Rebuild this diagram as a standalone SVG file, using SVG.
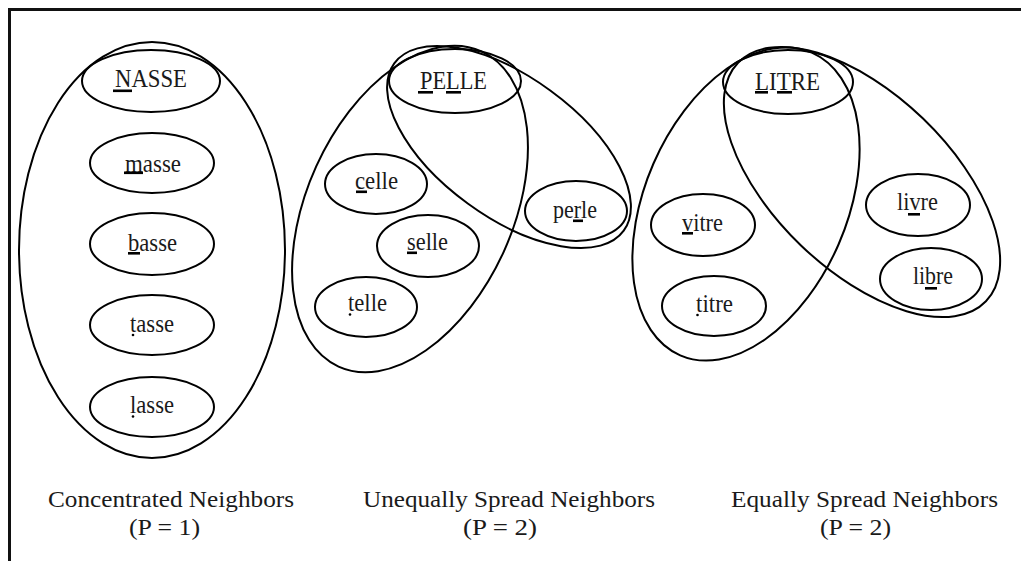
<svg xmlns="http://www.w3.org/2000/svg" width="1021" height="561" viewBox="0 0 1021 561">
<style>
.e{fill:none;stroke:#000;stroke-width:2}
.t{font-family:"Liberation Serif","Times New Roman",serif;font-size:25px;fill:#1a1a1a}
.c{font-family:"Liberation Serif","Times New Roman",serif;font-size:23px;fill:#1a1a1a;text-anchor:middle}
.u{fill:#000}
</style>
<rect width="1021" height="561" fill="#fff"/>
<path d="M9.5 561V9.5H1021" fill="none" stroke="#111" stroke-width="3"/>
<g id="connectors"/>
<g id="group-concentrated">
<ellipse class="e" cx="152" cy="250" rx="133" ry="208"/>
</g>
<g id="node-NASSE"><ellipse class="e" cx="151" cy="81" rx="69" ry="31"/><text class="t" x="115" y="87" textLength="72" lengthAdjust="spacingAndGlyphs">NASSE</text><rect class="u" x="113" y="89.5" width="19" height="2.6"/></g>
<g id="node-masse"><ellipse class="e" cx="152" cy="163" rx="62" ry="30"/><text class="t" x="125" y="172" textLength="56" lengthAdjust="spacingAndGlyphs">masse</text><rect class="u" x="124" y="171.5" width="19" height="2.6"/></g>
<g id="node-basse"><ellipse class="e" cx="152" cy="244" rx="62" ry="31"/><text class="t" x="128" y="251" textLength="49" lengthAdjust="spacingAndGlyphs">basse</text><rect class="u" x="128" y="252" width="12" height="2.6"/></g>
<g id="node-tasse"><ellipse class="e" cx="152" cy="325" rx="62" ry="30"/><text class="t" x="130" y="332" textLength="44" lengthAdjust="spacingAndGlyphs">tasse</text><circle class="u" cx="133" cy="335" r="1.3"/></g>
<g id="node-lasse"><ellipse class="e" cx="152" cy="407" rx="62" ry="30"/><text class="t" x="130" y="413" textLength="44" lengthAdjust="spacingAndGlyphs">lasse</text><circle class="u" cx="133" cy="416.5" r="1.3"/></g>

<g id="group-unequal">
<ellipse class="e" cx="410" cy="209" rx="103" ry="173" transform="rotate(24.4 410 209)"/>
<ellipse class="e" cx="509" cy="147" rx="142" ry="70" transform="rotate(36.1 509 147)"/>
</g>
<g id="node-PELLE"><ellipse class="e" cx="455" cy="81" rx="66" ry="32"/><text class="t" x="420" y="89" textLength="67" lengthAdjust="spacingAndGlyphs">PELLE</text><rect class="u" x="418" y="91" width="15" height="2.6"/><rect class="u" x="446" y="91" width="15" height="2.6"/></g>
<g id="node-celle"><ellipse class="e" cx="376" cy="184" rx="51" ry="30"/><text class="t" x="355" y="189" textLength="43" lengthAdjust="spacingAndGlyphs">celle</text><rect class="u" x="356" y="190.5" width="11" height="2.6"/></g>
<g id="node-selle"><ellipse class="e" cx="428" cy="246" rx="51" ry="31"/><text class="t" x="407" y="250" textLength="41" lengthAdjust="spacingAndGlyphs">selle</text><rect class="u" x="407" y="251.5" width="10" height="2.6"/></g>
<g id="node-telle"><ellipse class="e" cx="366" cy="307" rx="51" ry="30"/><text class="t" x="348" y="311" textLength="39" lengthAdjust="spacingAndGlyphs">telle</text><circle class="u" cx="350" cy="314.5" r="1.3"/></g>
<g id="node-perle"><ellipse class="e" cx="576" cy="211" rx="51" ry="30"/><text class="t" x="553" y="218" textLength="44" lengthAdjust="spacingAndGlyphs">perle</text><rect class="u" x="573" y="219.5" width="10" height="2.6"/></g>

<g id="group-equal">
<ellipse class="e" cx="746" cy="204" rx="101" ry="165" transform="rotate(23.5 746 204)"/>
<ellipse class="e" cx="862" cy="182" rx="172" ry="88" transform="rotate(43.9 862 182)"/>
</g>
<g id="node-LITRE"><ellipse class="e" cx="788" cy="82" rx="65" ry="32"/><text class="t" x="755" y="90" textLength="65" lengthAdjust="spacingAndGlyphs">LITRE</text><rect class="u" x="755" y="91" width="13" height="2.6"/><rect class="u" x="777" y="91" width="15" height="2.6"/></g>
<g id="node-vitre"><ellipse class="e" cx="703" cy="225" rx="52" ry="31"/><text class="t" x="682" y="231" textLength="41" lengthAdjust="spacingAndGlyphs">vitre</text><rect class="u" x="682" y="232" width="11" height="2.6"/></g>
<g id="node-titre"><ellipse class="e" cx="714" cy="306" rx="52" ry="30"/><text class="t" x="696" y="312" textLength="37" lengthAdjust="spacingAndGlyphs">titre</text><circle class="u" cx="697.5" cy="315" r="1.3"/></g>
<g id="node-livre"><ellipse class="e" cx="918" cy="205" rx="52" ry="31"/><text class="t" x="897" y="210" textLength="41" lengthAdjust="spacingAndGlyphs">livre</text><rect class="u" x="908" y="213" width="12" height="2.6"/></g>
<g id="node-libre"><ellipse class="e" cx="931" cy="279" rx="51" ry="31"/><text class="t" x="913" y="284" textLength="40" lengthAdjust="spacingAndGlyphs">libre</text><rect class="u" x="925" y="287" width="12" height="2.6"/></g>

<g id="labels">
<text class="c" x="171" y="507" textLength="246" lengthAdjust="spacingAndGlyphs">Concentrated Neighbors</text>
<text class="c" x="164.5" y="535" textLength="71" lengthAdjust="spacingAndGlyphs">(P = 1)</text>
<text class="c" x="509" y="507" textLength="292" lengthAdjust="spacingAndGlyphs">Unequally Spread Neighbors</text>
<text class="c" x="500" y="535" textLength="74" lengthAdjust="spacingAndGlyphs">(P = 2)</text>
<text class="c" x="864.5" y="507" textLength="267" lengthAdjust="spacingAndGlyphs">Equally Spread Neighbors</text>
<text class="c" x="855.5" y="535" textLength="71" lengthAdjust="spacingAndGlyphs">(P = 2)</text>
</g>
</svg>
